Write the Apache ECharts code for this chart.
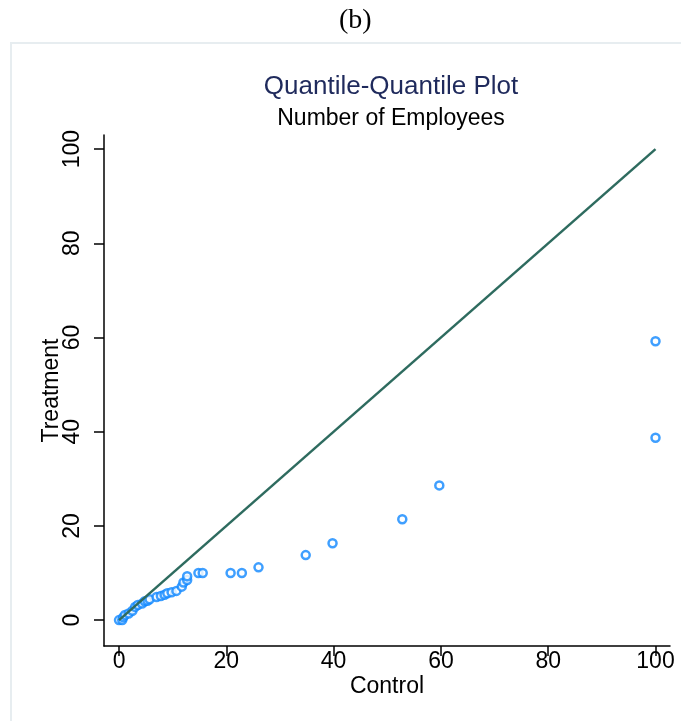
<!DOCTYPE html>
<html>
<head>
<meta charset="utf-8">
<script src="https://cdn.jsdelivr.net/npm/echarts@6/dist/echarts.min.js"></script>
<style>
  html, body { margin: 0; padding: 0; background: #fff; }
  #chart { width: 681px; height: 721px; }
</style>
</head>
<body>
<div id="chart"></div>
<script>
// quantiles
const controlQ = [0, 0.6, 0.8, 1.1, 1.8, 2.5, 3, 3.5, 4.3, 4.8, 5.3, 5.7, 7, 7.8, 8.5, 9, 9.8, 10.7, 11.7, 12, 12.7, 12.7, 14.8, 15.6, 20.8, 22.9, 26, 34.8, 39.8, 52.8, 59.7, 100, 100]
const treatQ = [0, 0, 0.6, 1.1, 1.4, 2, 2.8, 3.2, 3.5, 4, 4.1, 4.4, 4.9, 5.1, 5.4, 5.7, 5.9, 6.2, 7.1, 8, 8.5, 9.3, 10, 10, 10, 10, 11.2, 13.8, 16.3, 21.4, 28.6, 38.7, 59.2]
const diag = [0, 100]
const ticks = [0, 20, 40, 60, 80, 100]

const points = controlQ.map((c, i) => [c, treatQ[i]])
const lineData = diag.map(v => [v, v])

const chart = echarts.init(document.getElementById('chart'))

const axisFont = { fontFamily: 'Liberation Sans, Arial', fontSize: 23, color: '#000' }

chart.setOption({
  animation: false,
  backgroundColor: '#fff',
  graphic: [
    {
      type: 'text',
      left: 339,
      top: 7,
      style: { text: '(b)', font: '28px "Liberation Serif", "Times New Roman"', fill: '#000' }
    },
    {
      type: 'rect',
      shape: { x: 11, y: 43, width: 700, height: 700 },
      style: { fill: 'none', stroke: '#e7edf0', lineWidth: 2 }
    }
  ],
  title: {
    text: 'Quantile-Quantile Plot',
    subtext: 'Number of Employees',
    left: 386,
    textAlign: 'center',
    top: 69,
    itemGap: 7,
    textStyle: { fontFamily: 'Liberation Sans, Arial', fontSize: 26, fontWeight: 'normal', color: '#1f2a5c' },
    subtextStyle: { fontFamily: 'Liberation Sans, Arial', fontSize: 23, color: '#000' }
  },
  grid: { left: 104, right: 11, top: 135, bottom: 75 },
  xAxis: {
    type: 'value',
    min: -2.8,
    max: 102.7,
    name: 'Control',
    nameLocation: 'middle',
    nameGap: 29,
    nameMoveOverlap: false,
    nameTextStyle: axisFont,
    axisLine: { show: true, onZero: false, lineStyle: { color: '#000', width: 1.5 } },
    axisTick: { show: true, length: 10, customValues: ticks, lineStyle: { color: '#000', width: 1.5 } },
    axisLabel: { customValues: ticks, margin: 4, ...axisFont },
    splitLine: { show: false }
  },
  yAxis: {
    type: 'value',
    min: -5.5,
    max: 103,
    name: 'Treatment',
    nameLocation: 'middle',
    nameGap: 41,
    nameMoveOverlap: false,
    nameTextStyle: axisFont,
    axisLine: { show: true, onZero: false, lineStyle: { color: '#000', width: 1.5 } },
    axisTick: { show: true, length: 10, customValues: ticks, lineStyle: { color: '#000', width: 1.5 } },
    axisLabel: { customValues: ticks, rotate: 90, margin: 20, ...axisFont },
    splitLine: { show: false }
  },
  series: [
    {
      name: 'Reference',
      type: 'line',
      data: lineData,
      showSymbol: false,
      lineStyle: { color: '#2e6b5f', width: 2.5 },
      z: 3
    },
    {
      name: 'Quantiles',
      type: 'scatter',
      data: points,
      symbol: 'circle',
      symbolSize: 8,
      itemStyle: { color: '#fff', borderColor: '#0f87ff', borderWidth: 2.5 },
      z: 2
    }
  ]
})
</script>
</body>
</html>
